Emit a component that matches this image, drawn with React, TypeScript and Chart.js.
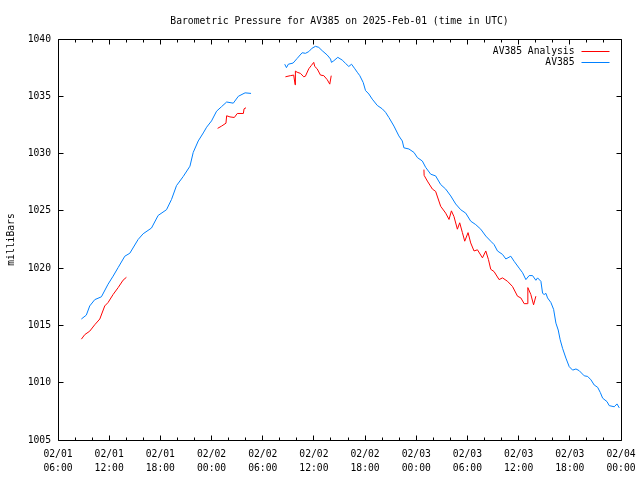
import React, { useEffect, useRef } from "react";
import { Chart, registerables } from "chart.js";

Chart.register(...registerables);

const TITLE = "Barometric Pressure for AV385 on 2025-Feb-01 (time in UTC)";
const Y_LABEL = "milliBars";
const SERIES_NAMES = ["AV385 Analysis", "AV385"];
const SERIES_COLORS = ["#ff0000", "#0080ff"];

// x values: hours since 2025-02-01 00:00 UTC
const X_MIN_HOUR = 6;
const X_MAX_HOUR = 72;
const MAJOR_STEP = 6;
const MINOR_STEP = 2;
const Y_MIN = 1005;
const Y_MAX = 1040;
const Y_STEP = 5;

const FONT_FAMILY = "'DejaVu Sans Mono', 'Liberation Mono', monospace";
const FONT_SIZE = 9.7;

// AV385 Analysis (red); null marks a gap in the record
const analysisHours = [
  8.74, 9.14, 9.72, 10.31, 10.9, 11.48, 11.87, 12.46, 13.05, 13.63, 14.02,
  19.0,
  24.71, 25.18, 25.69, 25.77, 26.16, 26.67, 27.02, 27.73, 27.81, 28.04,
  30.0,
  32.66, 33.24, 33.63, 33.8, 33.83, 34.03, 34.42, 34.81, 35.0, 35.4, 35.71, 35.98, 36.1, 36.38, 36.77, 37.16, 37.56, 37.86, 38.03,
  44.0,
  48.9, 48.92, 49.3, 49.89, 50.27, 50.86, 51.45, 51.84, 52.12, 52.42, 52.82, 53.09, 53.41, 53.68, 54.07, 54.38, 54.77, 55.17, 55.76,
  56.15, 56.46, 56.73, 57.12, 57.71, 58.11, 58.7, 59.28, 59.87, 60.26, 60.65, 61.04, 61.08, 61.43, 61.75, 62.02,
];
const analysisPressure = [
  1013.8, 1014.2, 1014.5, 1015.06, 1015.56, 1016.7, 1017.0, 1017.7, 1018.3, 1018.95, 1019.2,
  null,
  1032.2, 1032.4, 1032.65, 1033.3, 1033.2, 1033.15, 1033.5, 1033.5, 1033.9, 1034.0,
  null,
  1036.7, 1036.8, 1036.85, 1036.0, 1037.2, 1037.1, 1037.0, 1036.7, 1036.75, 1037.4, 1037.7, 1037.96, 1037.6, 1037.4, 1036.85, 1036.8, 1036.45, 1036.06, 1036.8,
  null,
  1028.6, 1028.1, 1027.6, 1026.9, 1026.7, 1025.4, 1024.8, 1024.25, 1025.0, 1024.5, 1023.4, 1023.96, 1023.1, 1022.35, 1023.1, 1022.2, 1021.5, 1021.6, 1020.9,
  1021.5, 1020.75, 1019.9, 1019.7, 1019.0, 1019.15, 1018.85, 1018.4, 1017.55, 1017.4, 1016.9, 1016.9, 1018.3, 1017.7, 1016.8, 1017.55,
];

// AV385 station (blue)
const stationHours = [
  8.74, 9.32, 9.72, 10.31, 11.09, 11.87, 12.46, 13.05, 13.83, 14.42, 15.39, 15.98, 16.96, 17.74, 18.72, 19.31, 19.89, 20.68,
  21.47, 21.85, 22.44, 23.03, 23.42, 24.0, 24.59, 25.18, 25.77, 26.55, 27.14, 27.93, 28.63,
  30.5,
  32.58, 32.78, 33.0, 33.56, 34.03, 34.62, 35.01, 35.4, 35.79, 36.18, 36.57, 36.97, 37.56, 37.95, 38.06, 38.33, 38.8, 39.32,
  39.71, 40.09, 40.41, 40.8, 41.08, 41.38, 41.78, 42.05, 42.44, 42.84, 43.43, 44.02, 44.4, 44.79, 45.38, 45.96, 46.36, 46.55,
  47.14, 47.73, 48.13, 48.71, 49.1, 49.69, 50.27, 50.86, 51.45, 52.04, 52.62, 53.21, 53.8, 54.38, 54.97, 55.56, 56.15, 56.73,
  57.12, 57.52, 58.11, 58.5, 59.08, 59.47, 60.06, 60.46, 60.85, 61.23, 61.63, 62.02, 62.22, 62.61, 62.81, 63.0, 63.2, 63.39,
  63.78, 64.1, 64.37, 64.64, 64.87, 65.15, 65.54, 65.93, 66.33, 66.72, 67.1, 67.69, 68.09, 68.48, 68.86, 69.26, 69.57, 69.85,
  70.36, 70.62, 71.21, 71.53, 71.8,
];
const stationPressure = [
  1015.56, 1015.9, 1016.7, 1017.25, 1017.5, 1018.6, 1019.3, 1020.05, 1021.04, 1021.3, 1022.5, 1023.0, 1023.5, 1024.6, 1025.1, 1026.0, 1027.2, 1028.0,
  1028.9, 1030.1, 1031.1, 1031.8, 1032.3, 1032.85, 1033.7, 1034.1, 1034.5, 1034.4, 1035.0, 1035.3, 1035.25,
  null,
  1037.8, 1037.5, 1037.8, 1037.9, 1038.3, 1038.8, 1038.75, 1038.9, 1039.2, 1039.36, 1039.27, 1038.98, 1038.6, 1038.25, 1037.96, 1038.1, 1038.4, 1038.16,
  1037.87, 1037.6, 1037.8, 1037.4, 1037.1, 1036.8, 1036.2, 1035.5, 1035.2, 1034.75, 1034.2, 1033.9, 1033.6, 1033.15, 1032.4, 1031.54, 1031.1, 1030.5,
  1030.4, 1030.1, 1029.65, 1029.35, 1028.8, 1028.2, 1028.05, 1027.3, 1026.9, 1026.3, 1025.6, 1025.1, 1024.8, 1024.1, 1023.8, 1023.4, 1022.8, 1022.35,
  1022.06, 1021.5, 1021.2, 1020.8, 1021.04, 1020.6, 1020.0, 1019.6, 1019.0, 1019.35, 1019.35, 1018.94, 1019.15, 1018.85, 1017.8, 1017.7, 1017.8, 1017.4,
  1017.0, 1016.4, 1015.2, 1014.6, 1013.75, 1013.0, 1012.15, 1011.4, 1011.1, 1011.2, 1011.05, 1010.6, 1010.55, 1010.25, 1009.8, 1009.6, 1009.15, 1008.65,
  1008.35, 1008.0, 1007.9, 1008.15, 1007.8,
];

function toPoints(hours: number[], values: (number | null)[]) {
  return hours.map((h, i) => ({ x: h, y: values[i] }));
}

function hourLabel(h: number): string[] {
  const day = 1 + Math.floor(h / 24);
  const hr = ((h % 24) + 24) % 24;
  const dd = String(day).padStart(2, "0");
  const hh = String(hr).padStart(2, "0");
  return ["02/" + dd, hh + ":00"];
}

const gnuplotFrame = {
  id: "gnuplotFrame",
  afterDraw(chart: any) {
    const { ctx, chartArea: a, scales } = chart;
    const L = Math.floor(a.left) + 0.5;
    const R = Math.floor(a.right) + 0.5;
    const T = Math.floor(a.top) + 0.5;
    const B = Math.floor(a.bottom) + 0.5;
    ctx.save();
    ctx.strokeStyle = "#000";
    ctx.lineWidth = 1;
    ctx.beginPath();
    ctx.rect(L, T, R - L, B - T);
    for (const t of scales.x.ticks) {
      const px = Math.floor(scales.x.getPixelForValue(t.value)) + 0.5;
      const len = t.value % MAJOR_STEP === 0 ? 5 : 3;
      ctx.moveTo(px, B);
      ctx.lineTo(px, B - len);
      ctx.moveTo(px, T);
      ctx.lineTo(px, T + len);
    }
    for (const t of scales.y.ticks) {
      const py = Math.floor(scales.y.getPixelForValue(t.value)) + 0.5;
      ctx.moveTo(L, py);
      ctx.lineTo(L + 5, py);
      ctx.moveTo(R, py);
      ctx.lineTo(R - 5, py);
    }
    ctx.stroke();

    // gnuplot-style key, inside top-right
    ctx.font = `${FONT_SIZE}px ${FONT_FAMILY}`;
    ctx.textAlign = "right";
    ctx.textBaseline = "middle";
    ctx.fillStyle = "#000";
    chart.data.datasets.forEach((ds: any, i: number) => {
      const y = Math.floor(a.top + 12 + i * 11.7) + 0.5;
      ctx.fillText(ds.label, R - 47, y);
      ctx.beginPath();
      ctx.strokeStyle = ds.borderColor;
      ctx.moveTo(R - 40, y);
      ctx.lineTo(R - 12, y);
      ctx.stroke();
    });
    ctx.restore();
  },
};

export default function App() {
  const canvasRef = useRef<HTMLCanvasElement | null>(null);

  useEffect(() => {
    const canvas = canvasRef.current;
    if (!canvas) return;
    const font = { family: FONT_FAMILY, size: FONT_SIZE };
    const chart = new Chart(canvas, {
      type: "line",
      data: {
        datasets: [
          {
            label: SERIES_NAMES[0],
            data: toPoints(analysisHours, analysisPressure),
            borderColor: SERIES_COLORS[0],
            backgroundColor: SERIES_COLORS[0],
            borderWidth: 1,
            pointRadius: 0,
            tension: 0,
            spanGaps: false,
          },
          {
            label: SERIES_NAMES[1],
            data: toPoints(stationHours, stationPressure),
            borderColor: SERIES_COLORS[1],
            backgroundColor: SERIES_COLORS[1],
            borderWidth: 1,
            pointRadius: 0,
            tension: 0,
            spanGaps: false,
          },
        ],
      },
      options: {
        animation: false,
        responsive: false,
        events: [],
        layout: { padding: { left: 0, right: 19, top: 0, bottom: 0 } },
        plugins: {
          legend: { display: false },
          tooltip: { enabled: false },
          title: {
            display: true,
            text: TITLE,
            fullSize: false,
            color: "#000",
            font: { ...font, weight: "normal", lineHeight: 12 / FONT_SIZE },
            padding: { top: 15.5, bottom: 11.5 },
          },
        },
        scales: {
          x: {
            type: "linear",
            min: X_MIN_HOUR,
            max: X_MAX_HOUR,
            afterFit: (s: any) => {
              s.height = 40;
              s.paddingLeft = 0;
              s.paddingRight = 0;
            },
            grid: { display: false, drawTicks: false },
            border: { display: false },
            ticks: {
              stepSize: MINOR_STEP,
              autoSkip: false,
              maxRotation: 0,
              minRotation: 0,
              padding: 7,
              color: "#000",
              font: { ...font, lineHeight: 1.45 },
              callback: (v: any) => (Number(v) % MAJOR_STEP === 0 ? hourLabel(Number(v)) : ""),
            },
          },
          y: {
            type: "linear",
            min: Y_MIN,
            max: Y_MAX,
            afterFit: (s: any) => {
              s.width = 58;
              s.paddingTop = 0;
              s.paddingBottom = 0;
            },
            grid: { display: false, drawTicks: false },
            border: { display: false },
            title: {
              display: true,
              text: Y_LABEL,
              color: "#000",
              font: { ...font, lineHeight: 1.2 },
              padding: { top: 6, bottom: 0 },
            },
            ticks: {
              stepSize: Y_STEP,
              padding: 7,
              color: "#000",
              font,
              callback: (v: any) => String(v),
            },
          },
        },
      },
      plugins: [gnuplotFrame],
    } as any);
    return () => chart.destroy();
  }, []);

  return (
    <div style={{ position: "absolute", left: 0, top: 0, width: 640, height: 480, background: "#fff" }}>
      <canvas ref={canvasRef} width={640} height={480} style={{ display: "block" }} />
    </div>
  );
}
